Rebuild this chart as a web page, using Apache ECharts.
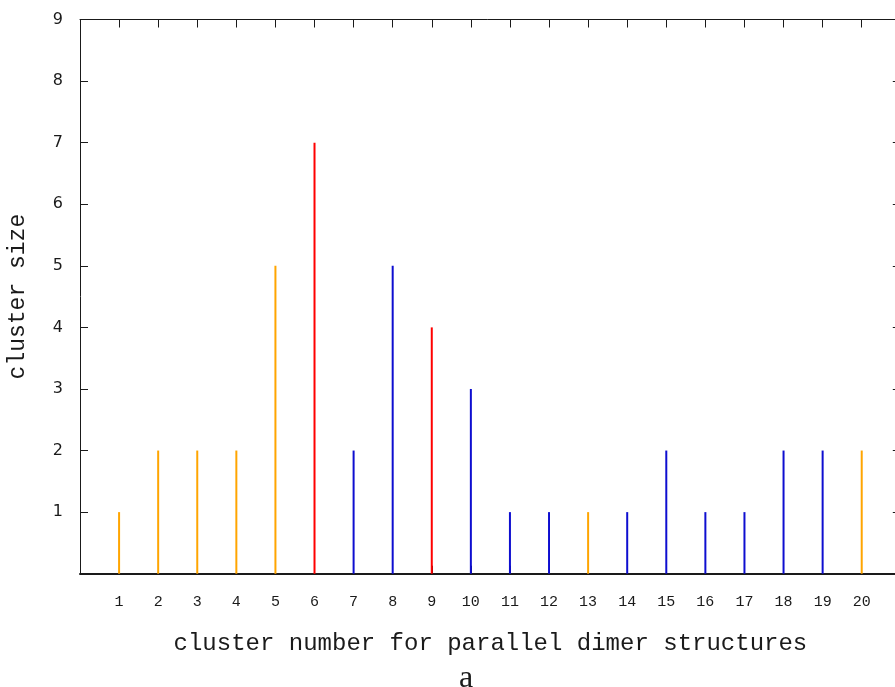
<!DOCTYPE html>
<html>
<head>
<meta charset="utf-8">
<script src="https://cdn.jsdelivr.net/npm/echarts@6/dist/echarts.min.js"></script>
<style>
  html, body { margin: 0; padding: 0; background: #fff; }
  #chart { width: 895px; height: 687px; }
</style>
</head>
<body>
<div id="chart"></div>
<script>
// Cluster numbers, their sizes and the structure group each cluster belongs to
const clusters = [1, 2, 3, 4, 5, 6, 7, 8, 9, 10, 11, 12, 13, 14, 15, 16, 17, 18, 19, 20];
const clusterSizes = [1, 2, 2, 2, 5, 7, 2, 5, 4, 3, 1, 1, 1, 1, 2, 1, 1, 2, 2, 2];
const clusterGroups = ['o', 'o', 'o', 'o', 'o', 'r', 'b', 'b', 'r', 'b',
                       'b', 'b', 'o', 'b', 'b', 'b', 'b', 'b', 'b', 'o'];
const yTicks = [1, 2, 3, 4, 5, 6, 7, 8, 9];

const groupColors = { o: '#ffa500', r: '#ff0000', b: '#0e0ed0' };
const ink = '#1a1a1a';

const impulses = clusters.map((c, i) => ({
  value: [c, clusterSizes[i]],
  itemStyle: { color: groupColors[clusterGroups[i]] }
}));

const chart = echarts.init(document.getElementById('chart'), null, { renderer: 'canvas' });

// frame axes: ticks point into the plot, lines stay on the grid edges
const frameTick = { show: true, inside: true, length: 8, lineStyle: { color: ink, width: 1 } };

chart.setOption({
  animation: false,
  backgroundColor: '#ffffff',
  grid: {
    left: 80, top: 19.5, width: 820.8, height: 554.2,
    containLabel: false, outerBoundsMode: 'none'
  },
  title: {
    text: 'a',
    left: 461,
    textAlign: 'center',
    top: 658,
    textStyle: { fontFamily: 'Liberation Serif', fontSize: 32, fontWeight: 'normal', color: ink }
  },
  xAxis: [
    {
      type: 'value', position: 'bottom', min: 0, max: 21, interval: 1,
      name: 'cluster number for parallel dimer structures',
      nameLocation: 'middle', nameGap: 58,
      nameTextStyle: { fontFamily: 'Liberation Mono', fontSize: 24, color: ink },
      axisLine: { show: true, onZero: false, lineStyle: { color: ink, width: 2 } },
      axisTick: frameTick,
      axisLabel: {
        show: true, margin: 21, fontFamily: 'Liberation Mono', fontSize: 15, color: ink,
        showMinLabel: true, showMaxLabel: true,
        formatter: v => (clusters.indexOf(v) >= 0 ? String(v) : '')
      },
      splitLine: { show: false }
    },
    {
      type: 'value', position: 'top', min: 0, max: 21, interval: 1,
      axisLine: { show: true, onZero: false, lineStyle: { color: ink, width: 1 } },
      axisTick: frameTick,
      axisLabel: { show: false },
      splitLine: { show: false }
    }
  ],
  yAxis: [
    {
      type: 'value', position: 'left', min: 0, max: 9, interval: 1,
      name: 'cluster size',
      nameLocation: 'middle', nameGap: 51, nameRotate: 90,
      nameTextStyle: { fontFamily: 'Liberation Mono', fontSize: 23, color: ink },
      axisLine: { show: true, onZero: false, lineStyle: { color: ink, width: 1 } },
      axisTick: frameTick,
      axisLabel: {
        show: true, margin: 17, fontFamily: 'DejaVu Sans', fontSize: 16, color: ink,
        formatter: v => (yTicks.indexOf(v) >= 0 ? String(v) : '')
      },
      splitLine: { show: false }
    },
    {
      type: 'value', position: 'right', min: 0, max: 9, interval: 1,
      axisLine: { show: true, onZero: false, lineStyle: { color: ink, width: 1 } },
      axisTick: frameTick,
      axisLabel: { show: false },
      splitLine: { show: false }
    }
  ],
  series: [
    {
      name: 'cluster size',
      type: 'bar',
      xAxisIndex: 0,
      yAxisIndex: 0,
      barWidth: 2,
      data: impulses,
      z: 3
    }
  ]
});
</script>
</body>
</html>
